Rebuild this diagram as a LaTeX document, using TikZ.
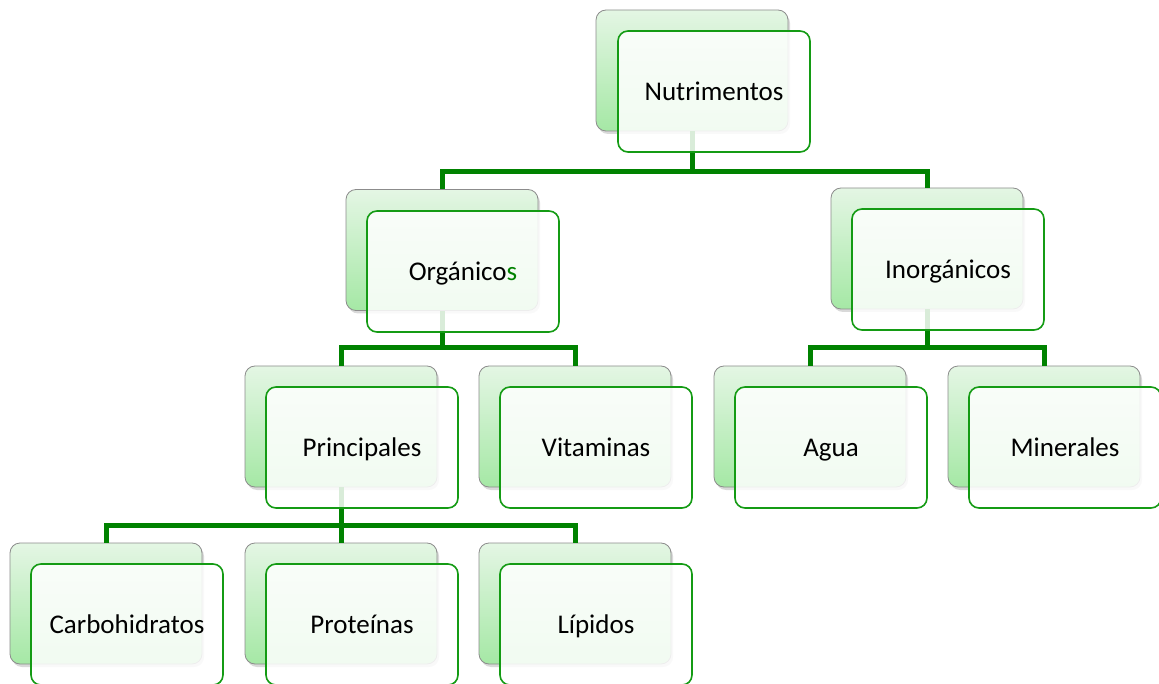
\documentclass[tikz,border=0pt]{standalone}
\usepackage{fontspec}
\setmainfont{Carlito}
\usetikzlibrary{shadows}
\definecolor{linkgreen}{RGB}{0,130,0}
\definecolor{edgegreen}{RGB}{20,155,20}
\definecolor{paletop}{RGB}{228,246,228}
\definecolor{palebot}{RGB}{165,232,165}
\begin{document}
\begin{tikzpicture}
        [x=1pt, y=-1pt, font=\fontsize{27}{32}\selectfont,
        back/.style={rectangle, rounded corners=10pt, draw=gray!90, thick,
          minimum width=192pt, minimum height=121pt,
          top color=paletop, bottom color=palebot,
          drop shadow={opacity=.3, shadow xshift=2pt, shadow yshift=-3pt}},
        front/.style={rectangle, rounded corners=10pt, draw=edgegreen, line width=1.6pt,
          fill=white, fill opacity=.85, text opacity=1,
          text height=23pt, text depth=5pt,
          minimum width=192pt, minimum height=121pt},
        link/.style={draw=linkgreen, line width=5pt}]
        \useasboundingbox (0,0) rectangle (1159,684);
        % back boxes
        \node (nutB) at (692,70.5) [back] {};
        \node (orgB) at (442,250) [back] {};
        \node (inoB) at (927,248.5) [back] {};
        \node (priB) at (341,426.5) [back] {};
        \node (vitB) at (575,426.5) [back] {};
        \node (aguB) at (810,426.5) [back] {};
        \node (minB) at (1044,426.5) [back] {};
        \node (carB) at (106,603.5) [back] {};
        \node (proB) at (341,603.5) [back] {};
        \node (lipB) at (575,603.5) [back] {};
        % connectors
        \coordinate (j0) at (692,172);
        \coordinate (j1) at (442,348);
        \coordinate (j2) at (927,348);
        \coordinate (j3) at (341,525);
        \draw[link] (nutB.south) -- (j0) -| (orgB.north);
        \draw[link] (j0) -| (inoB.north);
        \draw[link] (orgB.south) -- (j1) -| (priB.north);
        \draw[link] (j1) -| (vitB.north);
        \draw[link] (inoB.south) -- (j2) -| (aguB.north);
        \draw[link] (j2) -| (minB.north);
        \draw[link] (priB.south) -- (j3) -| (carB.north);
        \draw[link] (j3) -- (proB.north);
        \draw[link] (j3) -| (lipB.north);
        % front boxes
        \node (nut) at (714,91.5) [front] {Nutrimentos};
        \node (org) at (463,271.5) [front] {Orgánico\textcolor{linkgreen}{s}};
        \node (ino) at (948,269.5) [front] {Inorgánicos};
        \node (pri) at (362,447.5) [front] {Principales};
        \node (vit) at (596,447.5) [front] {Vitaminas};
        \node (agu) at (831,447.5) [front] {Agua};
        \node (min) at (1065,447.5) [front] {Minerales};
        \node (car) at (127,624.5) [front] {Carbohidratos};
        \node (pro) at (362,624.5) [front] {Proteínas};
        \node (lip) at (596,624.5) [front] {Lípidos};
      \end{tikzpicture}
\end{document}
